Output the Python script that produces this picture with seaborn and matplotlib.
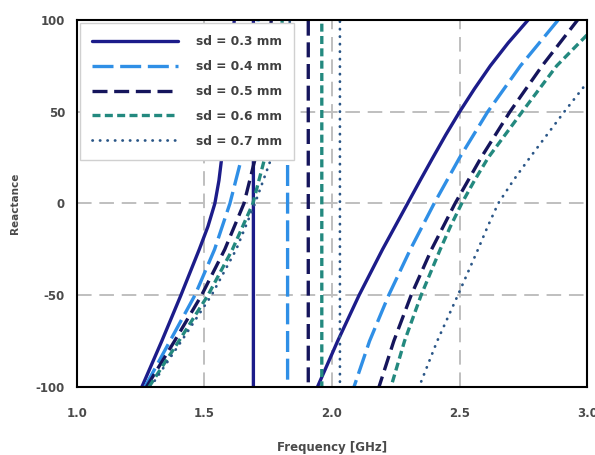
import numpy as np
import pandas as pd
import matplotlib
matplotlib.use('Agg')
import matplotlib.pyplot as plt
import seaborn as sns

# Reactance vs frequency.
# Each curve: lower branch -> pole (jump from +inf to -inf) -> upper branch.
# Values beyond +/-100 sit outside the axes and only shape the pole lines.
freq_03 = [1.255, 1.333, 1.408, 1.480, 1.514, 1.541, 1.557, 1.568, 1.588, 1.604, 1.617,
           1.692, 1.692,
           1.943, 2.022, 2.106, 2.198, 2.296, 2.345, 2.395, 2.446, 2.500, 2.558,
           2.620, 2.690, 2.768, 2.80]
react_03 = [-100, -75, -50, -25, -12.5, 0, 12.5, 25, 50, 75, 100,
            1000, -1000,
            -100, -75, -50, -25, 0, 12.5, 25, 37.5, 50, 62.5,
            75, 87.5, 100, 110]

freq_04 = [1.267, 1.365, 1.463, 1.540, 1.600, 1.646, 1.675, 1.695, 1.710,
           1.826, 1.826,
           2.086, 2.147, 2.222, 2.307, 2.400, 2.500, 2.610, 2.738, 2.886, 2.92]
react_04 = [-100, -75, -50, -25, 0, 25, 50, 75, 100,
            1000, -1000,
            -100, -75, -50, -25, 0, 25, 50, 75, 100, 110]

freq_05 = [1.273, 1.383, 1.489, 1.580, 1.655, 1.700, 1.728, 1.748, 1.762,
           1.907, 1.907,
           2.184, 2.242, 2.310, 2.390, 2.482, 2.584, 2.697, 2.823, 2.962, 2.99]
react_05 = [-100, -75, -50, -25, 0, 25, 50, 75, 100,
            1000, -1000,
            -100, -75, -50, -25, 0, 25, 50, 75, 100, 110]

freq_06 = [1.283, 1.400, 1.514, 1.610, 1.690, 1.737, 1.770, 1.790, 1.805,
           1.960, 1.960,
           2.231, 2.284, 2.349, 2.424, 2.464, 2.508, 2.558, 2.612, 2.745, 2.880, 3.0]
react_06 = [-100, -75, -50, -25, 0, 25, 50, 75, 100,
            1000, -1000,
            -100, -75, -50, -25, -12.5, 0, 12.5, 25, 50, 75, 92]

freq_07 = [1.289, 1.410, 1.528, 1.625, 1.698, 1.763, 1.800, 1.820, 1.835,
           2.031, 2.031,
           2.341, 2.412, 2.493, 2.572, 2.610, 2.651, 2.710, 2.775, 2.910, 3.0]
react_07 = [-100, -75, -50, -25, 0, 25, 50, 75, 100,
            1000, -1000,
            -100, -75, -50, -25, -12.5, 0, 12.5, 25, 50, 66]

labels = ['sd = 0.3 mm', 'sd = 0.4 mm', 'sd = 0.5 mm', 'sd = 0.6 mm', 'sd = 0.7 mm']
freqs = [freq_03, freq_04, freq_05, freq_06, freq_07]
reacts = [react_03, react_04, react_05, react_06, react_07]

colors = ['#1c1c8a', '#2f8fe6', '#15155c', '#23897f', '#2a5687']
styles = ['-', (0, (6.3, 2.0)), (0, (4.5, 2.0)), (0, (2.4, 1.3)), (0, (0.1, 2.6))]
widths = [2.4, 2.4, 2.4, 2.4, 2.0]

sns.set_style('white')
plt.rcParams['font.family'] = ['DejaVu Sans']
plt.rcParams['axes.unicode_minus'] = False

fig = plt.figure(figsize=(5.95, 4.55), dpi=100)
ax = fig.add_axes([0.129, 0.1495, 0.858, 0.8065])

for f, r, lab, c, ls, lw in zip(freqs, reacts, labels, colors, styles, widths):
    df = pd.DataFrame({'Frequency': f, 'Reactance': r})
    sns.lineplot(data=df, x='Frequency', y='Reactance', ax=ax, color=c,
                 linestyle=ls, linewidth=lw, label=lab, sort=False, estimator=None,
                 dash_capstyle='round' if lab.endswith('0.7 mm') else 'butt')

ax.set_xlim(1.0, 3.0)
ax.set_ylim(-100, 100)
ax.set_xticks([1.0, 1.5, 2.0, 2.5, 3.0])
ax.set_xticklabels(['1.0', '1.5', '2.0', '2.5', '3.0'])
ax.set_yticks([-100, -50, 0, 50, 100])

ax.grid(True, color='#bfbfbf', linestyle=(0, (7.5, 4)), linewidth=1.4)
ax.set_axisbelow(True)
for s in ax.spines.values():
    s.set_color('black')
    s.set_linewidth(1.5)

ax.tick_params(axis='both', direction='inout', length=7, width=1.3, color='black',
               labelsize=8.5, labelcolor='#4a4a4a')
ax.tick_params(axis='x', pad=11)
ax.tick_params(axis='y', pad=5)
for t in ax.get_xticklabels() + ax.get_yticklabels():
    t.set_fontweight('bold')

ax.set_xlabel('Frequency [GHz]', fontsize=8.5, color='#4a4a4a', fontweight='bold', labelpad=15)
ax.set_ylabel('Reactance', fontsize=7.5, color='#4a4a4a', fontweight='bold', labelpad=11)

leg = ax.legend(loc='upper left', bbox_to_anchor=(0.006, 0.992), borderaxespad=0,
                fontsize=8.8, handlelength=7.0, handletextpad=1.5, labelspacing=0.97,
                borderpad=1.0, frameon=True, fancybox=False, framealpha=1,
                edgecolor='#d0d0d0')
for t in leg.get_texts():
    t.set_color('#404040')
    t.set_fontweight('bold')

fig.savefig('out.png', dpi=100)
